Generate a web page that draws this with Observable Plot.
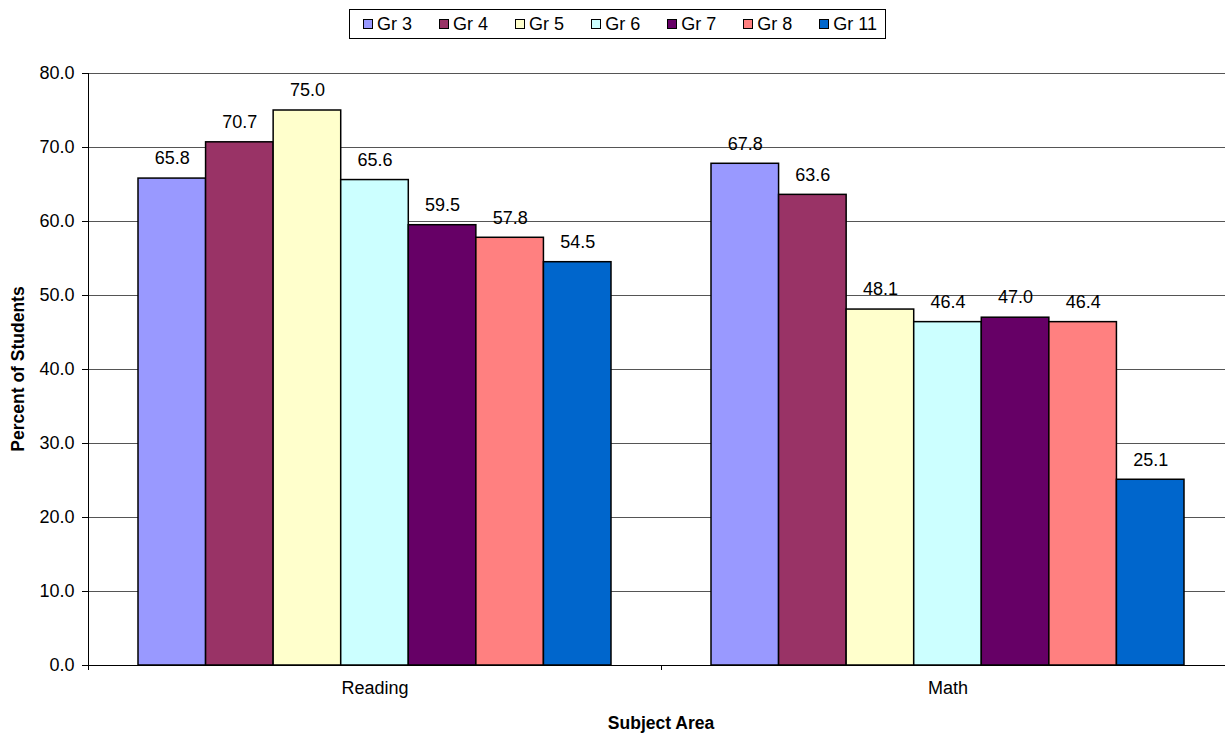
<!DOCTYPE html>
<html><head><meta charset="utf-8">
<script src="https://cdn.jsdelivr.net/npm/d3@7"></script>
<script src="https://cdn.jsdelivr.net/npm/@observablehq/plot@0.6"></script>
<style>
html,body{margin:0;padding:0;background:#fff;overflow:hidden;width:1225px;height:738px;font-family:"Liberation Sans",Arial,sans-serif;}
#wrap{position:relative;width:1225px;height:738px;overflow:hidden;}
#legend{position:absolute;left:349px;top:9px;width:537px;height:30px;border:1px solid #000;box-sizing:border-box;display:flex;align-items:center;justify-content:space-between;padding:0 8px 0 13px;font-size:18px;background:#fff;z-index:2;}
#legend .it{display:flex;align-items:center;gap:4px;}
#legend .sw{width:10px;height:10px;border:1px solid #000;box-sizing:border-box;}
#chart svg{position:absolute;left:0;top:0;max-width:none !important;}
</style></head>
<body><div id="wrap"><div id="legend"></div><div id="chart"></div></div>
<script>
const subjects = ["Reading", "Math"];
const grades = ["Gr 3", "Gr 4", "Gr 5", "Gr 6", "Gr 7", "Gr 8", "Gr 11"];
const readingValues = [65.8, 70.7, 75.0, 65.6, 59.5, 57.8, 54.5];
const mathValues = [67.8, 63.6, 48.1, 46.4, 47.0, 46.4, 25.1];
const colors = ["#9999FF", "#993366", "#FFFFCC", "#CCFFFF", "#660066", "#FF8080", "#0066CC"];
const yTicks = [0, 10, 20, 30, 40, 50, 60, 70, 80];

const data = [];
grades.forEach((g, i) => data.push({subject: "Reading", grade: g, value: readingValues[i]}));
grades.forEach((g, i) => data.push({subject: "Math", grade: g, value: mathValues[i]}));

const fmt = d3.format(".1f");
const chart = Plot.plot({
  width: 1234, height: 738,
  marginTop: 73, marginBottom: 73, marginLeft: 88, marginRight: 0,
  style: {fontFamily: "'Liberation Sans', Arial, sans-serif", fontSize: "18px", color: "#000", background: "transparent", overflow: "visible", maxWidth: "none"},
  fx: {domain: subjects, padding: 0, round: false, label: null},
  x: {domain: grades, paddingInner: 0, paddingOuter: 0.74, round: false, axis: null},
  y: {domain: [0, 80], ticks: yTicks, label: null},
  color: {domain: grades, range: colors},
  marks: [
    Plot.gridY(yTicks, {stroke: "#555", strokeOpacity: 1, strokeWidth: 1}),
    Plot.barY(data, {fx: "subject", x: "grade", y: "value", fill: "grade", stroke: "#000", strokeWidth: 1.5, inset: 0}),
    Plot.text(data, {fx: "subject", x: "grade", y: "value", text: d => fmt(d.value), dy: -20, fontSize: 18, fill: "#000"}),
    Plot.axisY(yTicks, {tickFormat: fmt, tickSize: 6, tickPadding: 8, fontSize: 18, anchor: "left", label: null}),
    Plot.axisFx({anchor: "bottom", tickSize: 0, tickPadding: 16, fontSize: 18, label: null}),
    Plot.ruleY([0], {stroke: "#000", strokeWidth: 1})
  ]
});
document.getElementById("chart").appendChild(chart);

const fx = chart.scale("fx");
const yS = chart.scale("y");
const svg = d3.select(chart);
const y0 = yS.apply(0), yTop = yS.apply(80);
// Value axis line
svg.append("line").attr("x1", 88.5).attr("x2", 88.5).attr("y1", yTop).attr("y2", y0).attr("stroke", "#000");
// Category boundary ticks from the fx scale
const bounds = [];
subjects.forEach(s => { const a = fx.apply(s); bounds.push(a); bounds.push(a + fx.bandwidth); });
Array.from(new Set(bounds.map(b => Math.round(b)))).forEach(b => {
  svg.append("line").attr("x1", b + 0.5).attr("x2", b + 0.5).attr("y1", y0).attr("y2", y0 + 5).attr("stroke", "#000");
});
// Axis titles
svg.append("text").attr("transform", `translate(24,${(yTop + y0) / 2}) rotate(-90)`)
  .attr("text-anchor", "middle").attr("font-weight", "bold").attr("font-size", 17.5).text("Percent of Students");
svg.append("text").attr("x", fx.apply("Math")).attr("y", 729)
  .attr("text-anchor", "middle").attr("font-weight", "bold").attr("font-size", 17.5).text("Subject Area");

// Legend
const leg = d3.select("#legend");
grades.forEach((g, i) => {
  const it = leg.append("div").attr("class", "it");
  it.append("div").attr("class", "sw").style("background", colors[i]);
  it.append("span").text(g);
});
</script>
</body></html>
